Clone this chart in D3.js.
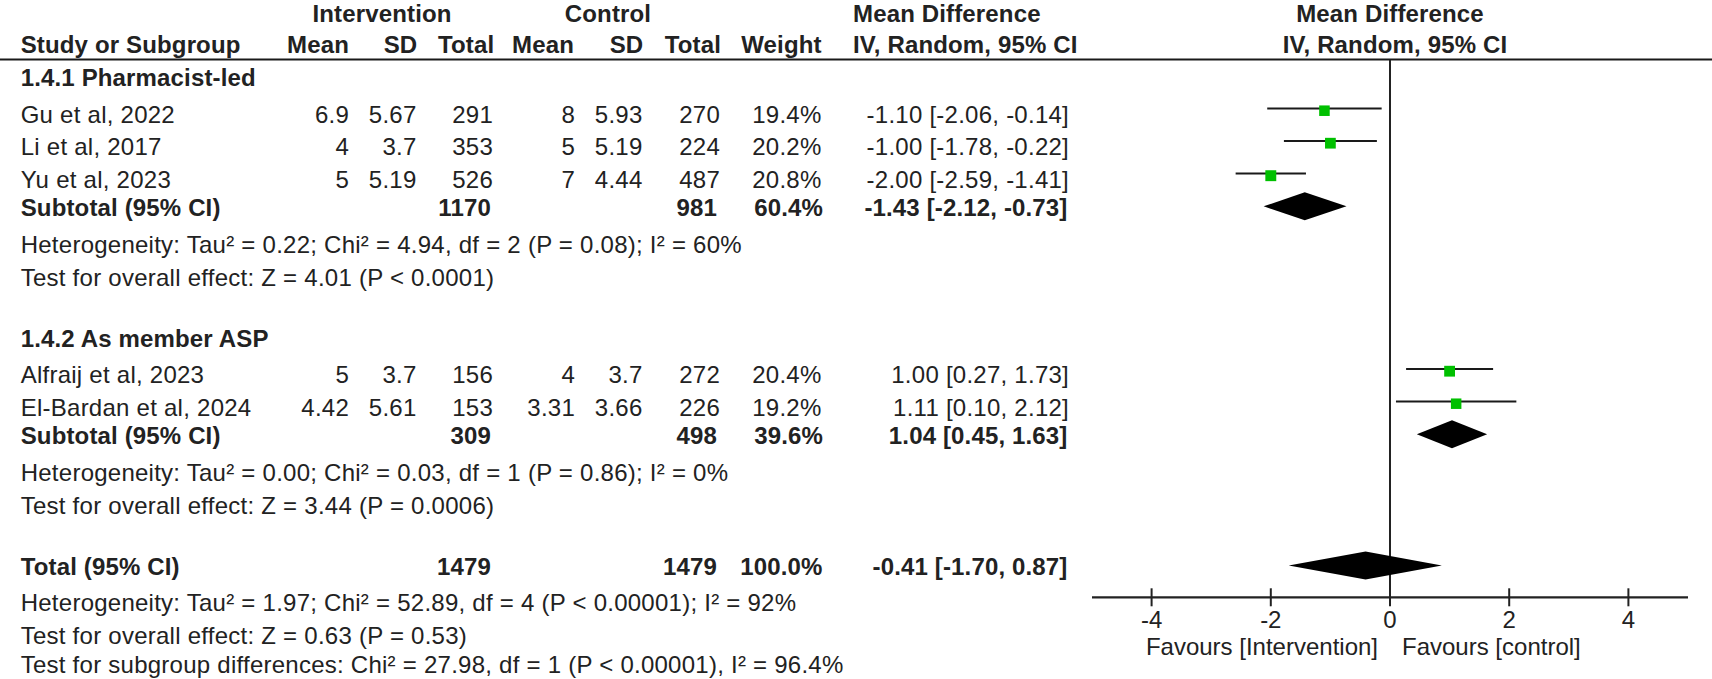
<!DOCTYPE html>
<html><head><meta charset="utf-8">
<script src="https://cdn.jsdelivr.net/npm/d3@7"></script>
<style>
body{margin:0;background:#fff}
svg{display:block;background:#fff}
text{font-family:"Liberation Sans",Arial,Helvetica,sans-serif;font-size:24px;fill:#222}
text.t{letter-spacing:0.25px}
text.b{font-weight:bold;letter-spacing:0.15px}
</style>
</head><body>
<svg id="chart" width="1712" height="679"></svg>
<script>
// ---------- data ----------
const studyNames = ["Gu et al, 2022","Li et al, 2017","Yu et al, 2023","Alfraij et al, 2023","El-Bardan et al, 2024"];
const studyGroup = [0,0,0,1,1];
const intMean  = [6.9, 4, 5, 5, 4.42];
const intSD    = [5.67, 3.7, 5.19, 3.7, 5.61];
const intTotal = [291, 353, 526, 156, 153];
const ctrlMean = [8, 5, 7, 4, 3.31];
const ctrlSD   = [5.93, 5.19, 4.44, 3.7, 3.66];
const ctrlTotal= [270, 224, 487, 272, 226];
const weights  = [19.4, 20.2, 20.8, 20.4, 19.2];
const md       = [-1.10, -1.00, -2.00, 1.00, 1.11];
const ciLow    = [-2.06, -1.78, -2.59, 0.27, 0.10];
const ciHigh   = [-0.14, -0.22, -1.41, 1.73, 2.12];

const groupNames     = ["1.4.1 Pharmacist-led","1.4.2 As member ASP"];
const groupIntTotal  = [1170, 309];
const groupCtrlTotal = [981, 498];
const groupWeight    = [60.4, 39.6];
const groupMD        = [-1.43, 1.04];
const groupLow       = [-2.12, 0.45];
const groupHigh      = [-0.73, 1.63];
const groupHet  = ["Heterogeneity: Tau² = 0.22; Chi² = 4.94, df = 2 (P = 0.08); I² = 60%",
                   "Heterogeneity: Tau² = 0.00; Chi² = 0.03, df = 1 (P = 0.86); I² = 0%"];
const groupTest = ["Test for overall effect: Z = 4.01 (P < 0.0001)",
                   "Test for overall effect: Z = 3.44 (P = 0.0006)"];

const totalCounts = [1479, 1479];
const totalWeight = [100.0];
const totalEffect = [-0.41, -1.70, 0.87];
const totalNotes  = ["Heterogeneity: Tau² = 1.97; Chi² = 52.89, df = 4 (P < 0.00001); I² = 92%",
                     "Test for overall effect: Z = 0.63 (P = 0.53)",
                     "Test for subgroup differences: Chi² = 27.98, df = 1 (P < 0.00001), I² = 96.4%"];

const axisTicks   = [-4, -2, 0, 2, 4];
const axisDomain  = [-5, 5];
const favourLabels = ["Favours [Intervention]", "Favours [control]"];
const headerTop    = ["Intervention", "Control", "Mean Difference", "Mean Difference"];
const headerBottom = ["Study or Subgroup","Mean","SD","Total","Mean","SD","Total","Weight","IV, Random, 95% CI","IV, Random, 95% CI"];

// ---------- layout ----------
const W = 1712, H = 679;
const svg = d3.select("#chart");
const col = {name:20.7, im:349, isd:416.5, it:493, cm:575, csd:642.5, ct:720, w:821.5, ci:1069};
const x = d3.scaleLinear().domain(axisDomain).range([1390 - 5*59.6, 1390 + 5*59.6]);
const sq = d3.scaleSqrt().domain([0, 20]).range([0, 10.7]);
const hy = s => s.replace(/\u2212/g, "-");
const fmt2 = v => hy(d3.format(".2f")(v)), fmt1 = v => hy(d3.format(".1f")(v));
const ciText = (m,l,h) => `${fmt2(m)} [${fmt2(l)}, ${fmt2(h)}]`;

// build rows
const rows = [];
groupNames.forEach((g, gi) => {
  rows.push({type:"group", g:gi});
  studyNames.forEach((s, i) => { if (studyGroup[i] === gi) rows.push({type:"study", i}); });
  rows.push({type:"subtotal", g:gi});
  rows.push({type:"het", text:groupHet[gi]});
  rows.push({type:"test", text:groupTest[gi]});
});
rows.push({type:"total"});
rows.push({type:"het", text:totalNotes[0]});
rows.push({type:"test", text:totalNotes[1]});
rows.push({type:"last", text:totalNotes[2]});

function gap(t, prev){
  if (!prev) return 86;
  if (t === "study") return prev === "group" ? 36.7 : 32.5;
  if (t === "subtotal") return 28.4;
  if (t === "het") return prev === "total" ? 36 : 37;
  if (t === "test") return 32.4;
  if (t === "group") return 61;
  if (t === "total") return 61.7;
  return 29.8;
}
let yy = 0;
rows.forEach((r, k) => { yy += gap(r.type, k ? rows[k-1].type : null); r.y = yy; });

// ---------- headers ----------
const hdr = svg.append("g");
const topPos = [[382,"middle"],[608,"middle"],[853,"start"],[1390,"middle"]];
headerTop.forEach((t,i) => hdr.append("text").attr("class","b").attr("x",topPos[i][0]).attr("y",22)
  .attr("text-anchor",topPos[i][1]).text(t));
const botPos = [[col.name,"start"],[349,"end"],[417.3,"end"],[494.3,"end"],[574,"end"],[643.3,"end"],[721,"end"],[821.7,"end"],[853,"start"],[1395,"middle"]];
headerBottom.forEach((t,i) => hdr.append("text").attr("class","b").attr("x",botPos[i][0]).attr("y",53)
  .attr("text-anchor",botPos[i][1]).text(t));
svg.append("line").attr("x1",0).attr("x2",W).attr("y1",59.5).attr("y2",59.5)
  .attr("stroke","#1a1a1a").attr("stroke-width",2.2);

// ---------- table text ----------
function txt(xp, y, t, anchor, bold){
  return svg.append("text").attr("x",xp).attr("y",y).attr("text-anchor",anchor||"start")
    .attr("class", bold ? "b" : "t").text(t);
}
rows.forEach(r => {
  if (r.type === "group") txt(col.name, r.y, groupNames[r.g], "start", true);
  else if (r.type === "study") {
    const i = r.i;
    txt(col.name, r.y, studyNames[i]);
    txt(col.im, r.y, String(intMean[i]), "end");
    txt(col.isd, r.y, String(intSD[i]), "end");
    txt(col.it, r.y, String(intTotal[i]), "end");
    txt(col.cm, r.y, String(ctrlMean[i]), "end");
    txt(col.csd, r.y, String(ctrlSD[i]), "end");
    txt(col.ct, r.y, String(ctrlTotal[i]), "end");
    txt(col.w, r.y, fmt1(weights[i]) + "%", "end");
    txt(col.ci, r.y, ciText(md[i], ciLow[i], ciHigh[i]), "end");
  } else if (r.type === "subtotal") {
    const g = r.g;
    txt(col.name, r.y, "Subtotal (95% CI)", "start", true);
    txt(col.it - 2, r.y, String(groupIntTotal[g]), "end", true);
    txt(col.ct - 3, r.y, String(groupCtrlTotal[g]), "end", true);
    txt(col.w + 1.5, r.y, fmt1(groupWeight[g]) + "%", "end", true);
    txt(col.ci - 1.5, r.y, ciText(groupMD[g], groupLow[g], groupHigh[g]), "end", true);
  } else if (r.type === "total") {
    txt(col.name, r.y, "Total (95% CI)", "start", true);
    txt(col.it - 2, r.y, String(totalCounts[0]), "end", true);
    txt(col.ct - 3, r.y, String(totalCounts[1]), "end", true);
    txt(col.w + 1, r.y, fmt1(totalWeight[0]) + "%", "end", true);
    txt(col.ci - 1.5, r.y, ciText(totalEffect[0], totalEffect[1], totalEffect[2]), "end", true);
  } else {
    txt(col.name, r.y, r.text);
  }
});

// ---------- forest plot ----------
const axisY = 597.3;
const plot = svg.append("g");
plot.append("line").attr("x1",x(0)).attr("x2",x(0)).attr("y1",60).attr("y2",axisY)
  .attr("stroke","#222").attr("stroke-width",2);

const studyRows = rows.filter(r => r.type === "study");
plot.selectAll("line.ci").data(studyRows).join("line").attr("class","ci")
  .attr("x1", r => x(ciLow[r.i])).attr("x2", r => x(ciHigh[r.i]))
  .attr("y1", r => r.y - 14.3).attr("y2", r => r.y - 14.3)
  .attr("stroke","#1a1a1a").attr("stroke-width",2);
plot.selectAll("rect.pt").data(studyRows).join("rect").attr("class","pt")
  .attr("x", r => x(md[r.i]) - sq(weights[r.i])/2)
  .attr("y", r => r.y - 12 - sq(weights[r.i])/2)
  .attr("width", r => sq(weights[r.i])).attr("height", r => sq(weights[r.i]))
  .attr("fill","#00c000");

const diamonds = rows.filter(r => r.type === "subtotal" || r.type === "total").map(r => {
  const v = r.type === "total" ? totalEffect : [groupMD[r.g], groupLow[r.g], groupHigh[r.g]];
  return {y: r.y - 9.8, m: v[0], l: v[1], h: v[2]};
});
plot.selectAll("path.dm").data(diamonds).join("path").attr("class","dm")
  .attr("d", d => `M${x(d.l)},${d.y} L${x(d.m)},${d.y-14} L${x(d.h)},${d.y} L${x(d.m)},${d.y+14} Z`)
  .attr("fill","#000");

// axis
plot.append("line").attr("x1",x(axisDomain[0])).attr("x2",x(axisDomain[1])).attr("y1",axisY).attr("y2",axisY)
  .attr("stroke","#222").attr("stroke-width",2.2);
plot.selectAll("line.tk").data(axisTicks).join("line").attr("class","tk")
  .attr("x1", d => x(d)).attr("x2", d => x(d)).attr("y1", axisY - 9).attr("y2", axisY + 9)
  .attr("stroke","#222").attr("stroke-width",2);
plot.selectAll("text.tl").data(axisTicks).join("text").attr("class","tl")
  .attr("x", d => x(d)).attr("y", 628.3).attr("text-anchor","middle").text(d => hy(d3.format("d")(d)));
plot.append("text").attr("x", x(0) - 12).attr("y", 655).attr("text-anchor","end").text(favourLabels[0]);
plot.append("text").attr("x", x(0) + 12).attr("y", 655).attr("text-anchor","start").text(favourLabels[1]);
</script>
</body></html>
